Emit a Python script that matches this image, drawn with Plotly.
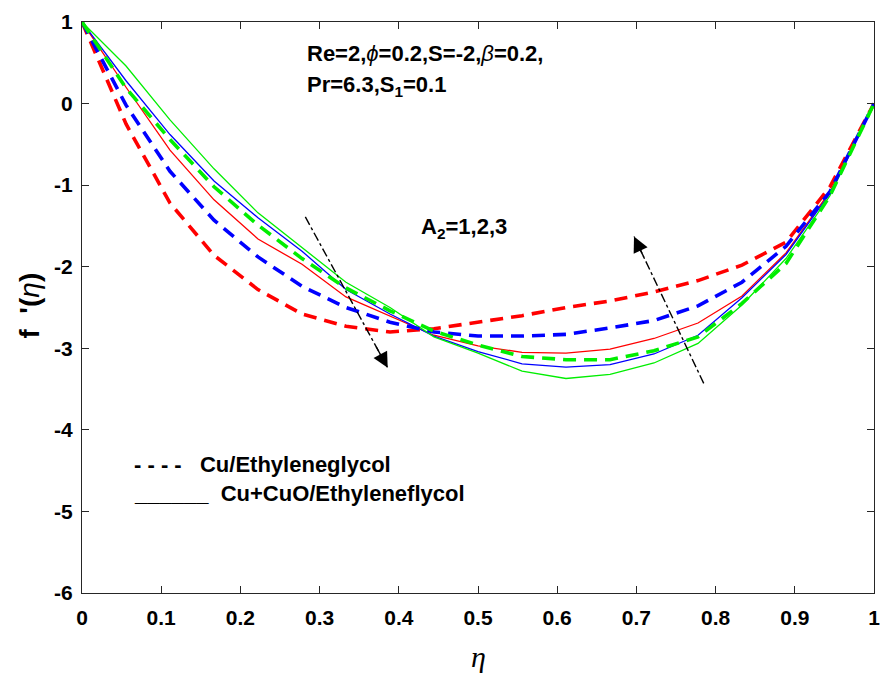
import plotly.graph_objects as go

# Similarity coordinate, sampled at 1/18 steps
eta = [0, 0.0556, 0.1111, 0.1667, 0.2222, 0.2778, 0.3333, 0.3889, 0.4444, 0.5,
       0.5556, 0.6111, 0.6667, 0.7222, 0.7778, 0.8333, 0.8889, 0.9444, 1.0]

# Cu / Ethylene glycol, A2 = 1, 2, 3
cu_a1 = [1.0, -0.25, -1.22, -1.86, -2.28, -2.58, -2.73, -2.80, -2.76, -2.68,
         -2.60, -2.50, -2.42, -2.31, -2.17, -1.98, -1.70, -1.02, 0.0]
cu_a2 = [1.0, -0.02, -0.83, -1.43, -1.88, -2.24, -2.50, -2.68, -2.80, -2.85,
         -2.85, -2.83, -2.75, -2.66, -2.48, -2.19, -1.75, -1.08, 0.0]
cu_a3 = [1.0, 0.19, -0.44, -1.02, -1.49, -1.90, -2.26, -2.54, -2.79, -2.96,
         -3.10, -3.14, -3.14, -3.03, -2.86, -2.45, -1.96, -1.13, 0.0]

# Cu+CuO / Ethylene glycol hybrid, A2 = 1, 2, 3
hy_a1 = [1.0, 0.20, -0.57, -1.18, -1.66, -1.97, -2.37, -2.61, -2.84, -2.97,
         -3.05, -3.06, -3.01, -2.88, -2.69, -2.36, -1.83, -1.08, 0.0]
hy_a2 = [1.0, 0.28, -0.38, -0.95, -1.40, -1.81, -2.28, -2.58, -2.85, -3.04,
         -3.19, -3.23, -3.20, -3.07, -2.84, -2.38, -1.85, -1.10, 0.0]
hy_a3 = [1.0, 0.46, -0.20, -0.80, -1.34, -1.77, -2.19, -2.50, -2.86, -3.06,
         -3.28, -3.37, -3.32, -3.18, -2.94, -2.47, -1.90, -1.13, 0.0]

colors = ["#ff0000", "#0000ff", "#00ee00"]

# Trend arrows (start -> tip) in data units
arrow_down = [(0.282, -1.39), (0.386, -3.24)]
arrow_up = [(0.785, -3.43), (0.697, -1.63)]

x_ticks = [0, 0.1, 0.2, 0.3, 0.4, 0.5, 0.6, 0.7, 0.8, 0.9, 1]
x_tick_text = ["0", "0.1", "0.2", "0.3", "0.4", "0.5", "0.6", "0.7", "0.8", "0.9", "1"]
y_ticks = [-6, -5, -4, -3, -2, -1, 0, 1]
y_tick_text = ["-6", "-5", "-4", "-3", "-2", "-1", "0", "1"]

fig = go.Figure()

for ys, c in zip([hy_a1, hy_a2, hy_a3], colors):
    fig.add_trace(go.Scatter(x=eta, y=ys, mode="lines",
                             line=dict(color=c, width=1.3), showlegend=False))
for ys, c in zip([cu_a1, cu_a2, cu_a3], colors):
    fig.add_trace(go.Scatter(x=eta, y=ys, mode="lines",
                             line=dict(color=c, width=3.6, dash="13px,8px"),
                             showlegend=False))

# dash-dot shafts of the trend arrows, with filled heads at the tips
for (x0, y0), (x1, y1) in [arrow_down, arrow_up]:
    fig.add_trace(go.Scatter(x=[x0, x1], y=[y0, y1], mode="lines",
                             line=dict(color="black", width=1.4, dash="dashdot"),
                             showlegend=False))
    fig.add_annotation(x=x1, y=y1, ax=x0 + (x1 - x0) * 0.85, ay=y0 + (y1 - y0) * 0.85,
                       xref="x", yref="y", axref="x", ayref="y", text="",
                       showarrow=True, arrowhead=2, arrowsize=2.2, arrowwidth=1.4,
                       arrowcolor="black")

font_txt = dict(family="Liberation Sans, Arial, sans-serif", size=22, color="black")

fig.add_annotation(x=0.282, y=0.62, xref="x", yref="y", xanchor="left", yanchor="middle",
                   showarrow=False, font=font_txt,
                   text="<b>Re=2,</b><i>ϕ</i><b>=0.2,S=-2,</b><i>β</i><b>=0.2,</b>")
fig.add_annotation(x=0.282, y=0.21, xref="x", yref="y", xanchor="left", yanchor="middle",
                   showarrow=False, font=font_txt,
                   text="<b>Pr=6.3,S<sub>1</sub>=0.1</b>")
fig.add_annotation(x=0.426, y=-1.52, xref="x", yref="y", xanchor="left", yanchor="middle",
                   showarrow=False, font=font_txt,
                   text="<b>A<sub>2</sub>=1,2,3</b>")
fig.add_annotation(x=0.063, y=-4.43, xref="x", yref="y", xanchor="left", yanchor="middle",
                   showarrow=False, font=font_txt,
                   text="<b>- - - - &nbsp; Cu/Ethyleneglycol</b>")
fig.add_annotation(x=0.063, y=-4.78, xref="x", yref="y", xanchor="left", yanchor="middle",
                   showarrow=False, font=font_txt,
                   text="<b>______  Cu+CuO/Ethyleneflycol</b>")

# axis titles
fig.add_annotation(x=0.5, y=-0.112, xref="paper", yref="paper", xanchor="center",
                   yanchor="middle", showarrow=False, text="<i>η</i>",
                   font=dict(family="Liberation Serif, Times New Roman, serif", size=30,
                             color="black"))
fig.add_annotation(x=-0.066, y=0.503, xref="paper", yref="paper", xanchor="center",
                   yanchor="middle", showarrow=False, textangle=-90,
                   text="<b>f&nbsp; '(</b><i>η</i><b>)</b>",
                   font=dict(family="Liberation Sans, Arial", size=28, color="black"))

tick_font = dict(family="Liberation Sans, Arial", size=21, color="black", weight="bold")

fig.update_xaxes(range=[0, 1], tickvals=x_ticks, ticktext=[f"<b>{t}</b>" for t in x_tick_text],
                 ticks="inside", ticklen=7, tickcolor="#262626", ticklabelstandoff=6,
                 showline=True, linecolor="#262626", linewidth=1.2, mirror="ticks",
                 showgrid=False, zeroline=False, tickfont=tick_font)
fig.update_yaxes(range=[-6, 1], tickvals=y_ticks, ticktext=[f"<b>{t}</b>" for t in y_tick_text],
                 ticks="inside", ticklen=7, tickcolor="#262626", ticklabelstandoff=4,
                 showline=True, linecolor="#262626", linewidth=1.2, mirror="ticks",
                 showgrid=False, zeroline=False, tickfont=tick_font)

fig.update_layout(width=890, height=679, plot_bgcolor="white", paper_bgcolor="white",
                  margin=dict(l=82, r=10, t=14, b=86), showlegend=False)

fig.write_html("out.html")
